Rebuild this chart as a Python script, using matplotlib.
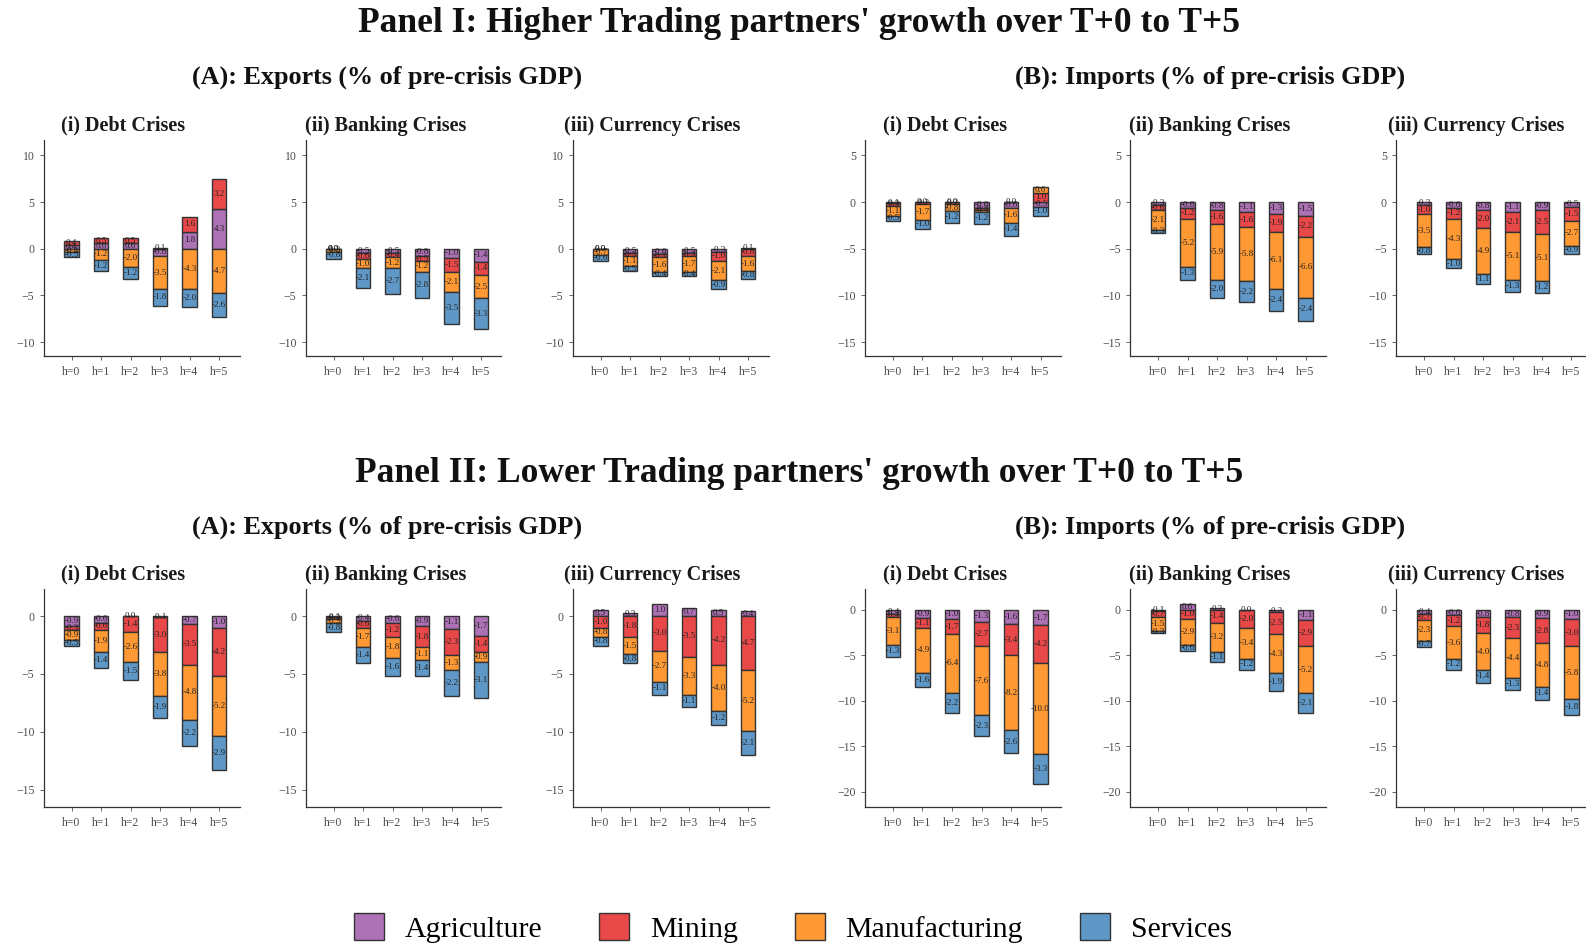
import matplotlib
matplotlib.use("Agg")
import matplotlib.pyplot as plt
from matplotlib.patches import Patch

plt.rcParams['font.family'] = ['Liberation Serif', 'DejaVu Serif']

horizons = ["h=0", "h=1", "h=2", "h=3", "h=4", "h=5"]
sectors = ["Agriculture", "Mining", "Manufacturing", "Services"]
colors = ["#AD71B5", "#E94849", "#FF9933", "#5F98C6"]

# Each: [Agriculture, Mining, Manufacturing, Services] for h=0..5
# Panel I: Higher trading partners' growth
p1_exp_debt = [[0.4, 0.6, 0.6, -0.8, 1.8, 4.3],
               [0.4, 0.5, 0.5, 0.1, 1.6, 3.2],
               [-0.4, -1.2, -2.0, -3.5, -4.3, -4.7],
               [-0.5, -1.2, -1.2, -1.8, -2.0, -2.6]]
p1_exp_bank = [[0.0, -0.5, -0.5, -0.8, -1.0, -1.4],
               [0.0, -0.6, -0.4, -0.5, -1.5, -1.4],
               [-0.3, -1.0, -1.2, -1.2, -2.1, -2.5],
               [-0.8, -2.1, -2.7, -2.8, -3.5, -3.3]]
p1_exp_curr = [[0.0, -0.5, -0.6, -0.5, -0.3, 0.1],
               [0.0, -0.3, -0.3, -0.3, -1.0, -0.8],
               [-0.7, -1.1, -1.6, -1.7, -2.1, -1.6],
               [-0.6, -0.5, -0.4, -0.4, -0.9, -0.8]]
p1_imp_debt = [[-0.1, 0.0, 0.0, -0.6, -0.6, -0.5],
               [-0.3, -0.2, -0.2, -0.2, 0.0, 1.0],
               [-1.1, -1.7, -0.8, -0.3, -1.6, 0.6],
               [-0.5, -1.0, -1.2, -1.2, -1.4, -1.0]]
p1_imp_bank = [[-0.3, -0.6, -0.8, -1.1, -1.3, -1.5],
               [-0.6, -1.2, -1.6, -1.6, -1.9, -2.2],
               [-2.1, -5.2, -5.9, -5.8, -6.1, -6.6],
               [-0.3, -1.3, -2.0, -2.2, -2.4, -2.4]]
p1_imp_curr = [[-0.3, -0.6, -0.8, -1.1, -0.9, -0.5],
               [-1.0, -1.2, -2.0, -2.1, -2.5, -1.5],
               [-3.5, -4.3, -4.9, -5.1, -5.1, -2.7],
               [-0.8, -1.0, -1.1, -1.3, -1.2, -0.9]]
# Panel II: Lower trading partners' growth
p2_exp_debt = [[-0.9, -0.6, 0.0, -0.1, -0.7, -1.0],
               [-0.3, -0.6, -1.4, -3.0, -3.5, -4.2],
               [-0.9, -1.9, -2.6, -3.8, -4.8, -5.2],
               [-0.5, -1.4, -1.5, -1.9, -2.2, -2.9]]
p2_exp_bank = [[-0.1, -0.4, -0.6, -0.9, -1.1, -1.7],
               [-0.2, -0.6, -1.2, -1.8, -2.3, -1.4],
               [-0.3, -1.7, -1.8, -1.1, -1.3, -0.9],
               [-0.8, -1.4, -1.6, -1.4, -2.2, -3.1]]
p2_exp_curr = [[0.5, 0.3, 1.0, 0.7, 0.5, 0.4],
               [-1.0, -1.8, -3.0, -3.5, -4.2, -4.7],
               [-0.8, -1.5, -2.7, -3.3, -4.0, -5.2],
               [-0.8, -0.8, -1.1, -1.1, -1.2, -2.1]]
p2_imp_debt = [[-0.4, -0.9, -1.0, -1.3, -1.6, -1.7],
               [-0.4, -1.1, -1.7, -2.7, -3.4, -4.2],
               [-3.1, -4.9, -6.4, -7.6, -8.2, -10.0],
               [-1.3, -1.6, -2.2, -2.3, -2.6, -3.3]]
p2_imp_bank = [[-0.1, 0.6, 0.2, 0.0, -0.2, -1.1],
               [-0.7, -1.0, -1.4, -2.0, -2.5, -2.9],
               [-1.5, -2.9, -3.2, -3.4, -4.3, -5.2],
               [-0.3, -0.6, -1.1, -1.2, -1.9, -2.1]]
p2_imp_curr = [[-0.4, -0.6, -0.8, -0.8, -0.9, -1.0],
               [-0.7, -1.2, -1.8, -2.3, -2.8, -3.0],
               [-2.3, -3.6, -4.0, -4.4, -4.8, -5.8],
               [-0.7, -1.2, -1.4, -1.3, -1.4, -1.8]]

sub_titles = ["(i) Debt Crises", "(ii) Banking Crises", "(iii) Currency Crises"]
panel_titles = ["Panel I: Higher Trading partners' growth over T+0 to T+5",
                "Panel II: Lower Trading partners' growth over T+0 to T+5"]
group_titles = ["(A): Exports (% of pre-crisis GDP)", "(B): Imports (% of pre-crisis GDP)"]

rows = [[p1_exp_debt, p1_exp_bank, p1_exp_curr, p1_imp_debt, p1_imp_bank, p1_imp_curr],
        [p2_exp_debt, p2_exp_bank, p2_exp_curr, p2_imp_debt, p2_imp_bank, p2_imp_curr]]

W, H = 1586, 948
fig = plt.figure(figsize=(W / 100, H / 100), dpi=100)

col_left = [43.5, 305.5, 572.5, 865, 1130, 1396]
ax_w = 196
unit = 29.5
row_y = [(139.6, 356.0), (588.7, 807.0)]
ylims = [[(-11.5, 11.7), (-16.5, 6.7)], [(-16.5, 2.36), (-21.7, 2.33)]]
yticks = [[[-10, -5, 0, 5, 10], [-15, -10, -5, 0, 5]],
          [[-15, -10, -5, 0], [-20, -15, -10, -5, 0]]]
ink = "#333333"

for r in range(2):
    top, bot = row_y[r]
    for c in range(6):
        data = rows[r][c]
        ax = fig.add_axes([col_left[c] / W, 1 - bot / H, ax_w / W, (bot - top) / H])
        x0 = -28 / unit
        ax.set_xlim(x0, x0 + ax_w / unit)
        g = 0 if c < 3 else 1
        ax.set_ylim(*ylims[r][g])
        ax.set_yticks(yticks[r][g])
        ax.set_xticks(range(6))
        ax.set_xticklabels(horizons)
        for i in range(6):
            pos, neg = 0.0, 0.0
            for s in range(4):
                v = data[s][i]
                if v >= 0:
                    b = pos
                    pos += v
                else:
                    b = neg
                    neg += v
                ax.bar(i, v, bottom=b, width=0.5, color=colors[s],
                       edgecolor=ink, linewidth=1.0, zorder=2)
                ax.text(i, b + v / 2, f"{v:.1f}", ha="center", va="center",
                        fontsize=6.5, color="#222222", zorder=3)
        for sp in ["top", "right"]:
            ax.spines[sp].set_visible(False)
        for sp in ["left", "bottom"]:
            ax.spines[sp].set_color(ink)
            ax.spines[sp].set_linewidth(0.9)
        ax.tick_params(axis="both", labelsize=8.5, colors="#4d4d4d", length=3, width=0.6)
        ax.tick_params(axis="x", pad=4)
        # subplot title
        cx = (col_left[c] + ax_w / 2 - 18) / W
        fig.text(cx, 1 - (top - 14) / H, sub_titles[c % 3], ha="center", va="center",
                 fontsize=14.5, fontweight="bold", color="#1a1a1a")

title_y = [24, 473]
group_y = [77, 527]
for r in range(2):
    fig.text(0.5038, 1 - title_y[r] / H, panel_titles[r], ha="center", va="center",
             fontsize=25.5, fontweight="bold", color="#111111")
    fig.text(387 / W, 1 - group_y[r] / H, group_titles[0], ha="center", va="center",
             fontsize=18.8, fontweight="bold", color="#111111")
    fig.text(1210 / W, 1 - group_y[r] / H, group_titles[1], ha="center", va="center",
             fontsize=18.8, fontweight="bold", color="#111111")

handles = [Patch(facecolor=colors[s], edgecolor=ink, linewidth=1.0, label=sectors[s])
           for s in range(4)]
fig.legend(handles=handles, loc="center", bbox_to_anchor=(0.5, 1 - 928 / H), ncol=4,
           frameon=False, fontsize=21.5, handlelength=1.0, handleheight=1.0,
           columnspacing=1.9, handletextpad=0.7)

fig.savefig("out.png", dpi=100)
